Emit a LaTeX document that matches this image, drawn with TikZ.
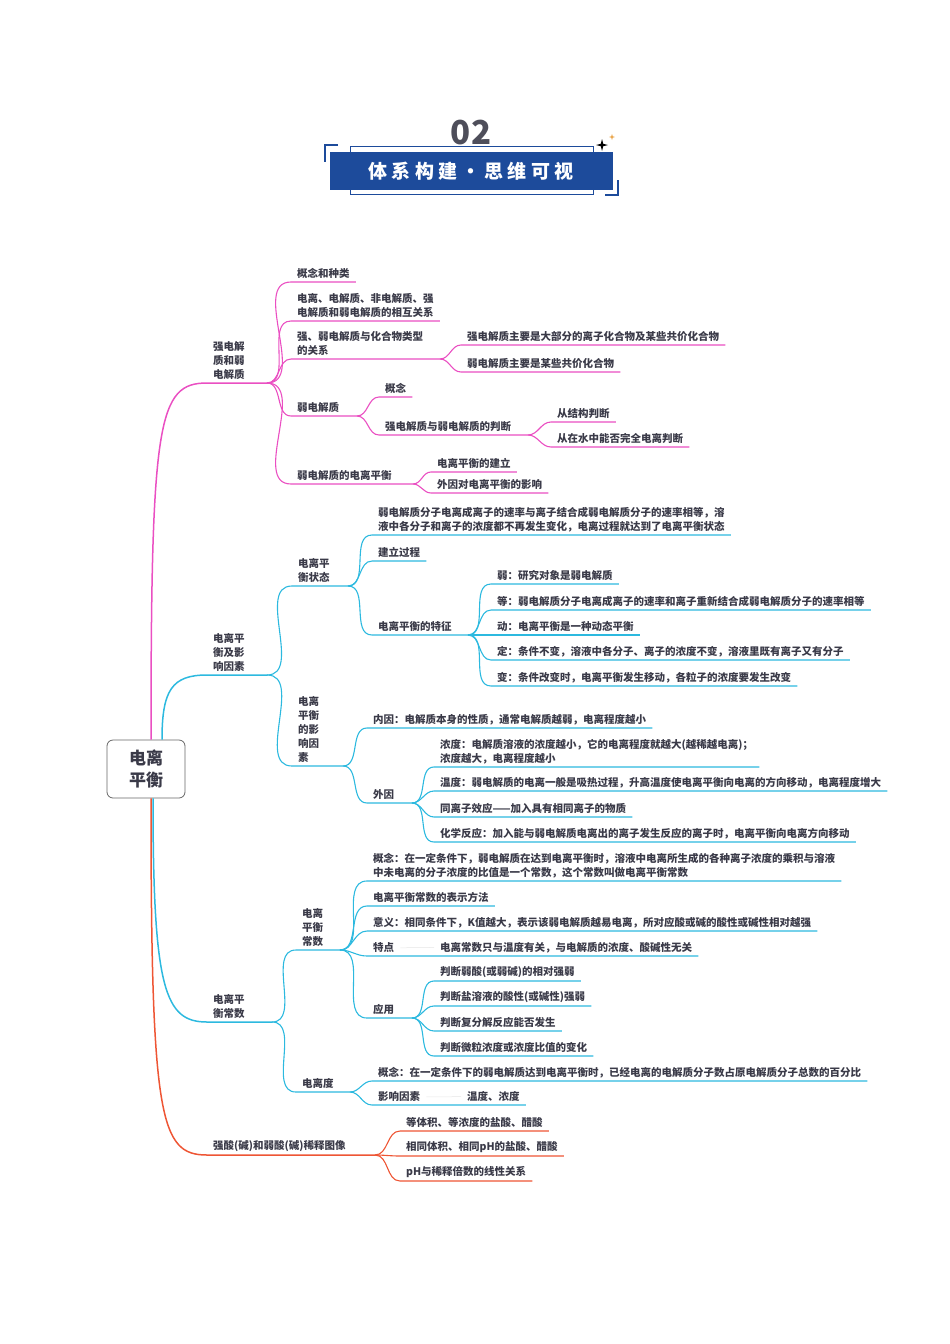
\documentclass[tikz,border=0pt]{standalone}
\usepackage{fontspec}
\usepackage{xcolor}
\usetikzlibrary{positioning}
\newfontfamily\cjk{Noto Sans CJK SC}
\newfontfamily\cjkwide{Noto Sans CJK SC}[LetterSpace=22]
\definecolor{txt}{HTML}{3A3A48}
\definecolor{pinkbr}{HTML}{EA4FC2}
\definecolor{cyanbr}{HTML}{2CB9DF}
\definecolor{redbr}{HTML}{EE5534}
\definecolor{navy}{HTML}{1D4B9B}
\definecolor{spark}{HTML}{E8A040}

\begin{document}
\begin{tikzpicture}[x=1pt,y=-1pt,
    leaf/.style={anchor=south west,inner xsep=6pt,inner ysep=3pt,align=left,text=txt,
      font=\cjk\bfseries\fontsize{10.5}{14}\selectfont},
    pinkln/.style={draw=pinkbr,line width=1.1pt},
    cyanln/.style={draw=cyanbr,line width=1.1pt},
    redln/.style={draw=redbr,line width=1.1pt},
    mainln/.style={line width=1.5pt}]
    \useasboundingbox (0,0) rectangle (950,1344);

    % title
    \draw[navy,line width=0.6pt] (350,146.5) rectangle (593,194);
    \node[fill=navy,minimum width=283,minimum height=38,text=white,
      font=\cjkwide\bfseries\fontsize{19}{22}\selectfont] (banner) at (471,171) {体系构建・思维可视};
    \node[above=3pt of banner,text=txt!90,font=\cjk\bfseries\fontsize{33}{36}\selectfont] (num) {02};
    \draw[navy,line width=1.2pt] (338,145) -- (325,145) -- (325,162);
    \draw[navy,line width=1.2pt] (605,195) -- (618,195) -- (618,180);
    \fill[black] (602,139) -- (603.2,143.8) -- (608,145) -- (603.2,146.2) -- (602,151) -- (600.8,146.2) -- (596,145) -- (600.8,143.8) -- cycle;
    \fill[spark] (612,134) -- (612.7,136.3) -- (615,137) -- (612.7,137.7) -- (612,140) -- (611.3,137.7) -- (609,137) -- (611.3,136.3) -- cycle;

    % root
    \node[draw=gray!80!black,rounded corners=6pt,line width=0.8pt,minimum width=78,minimum height=58,
      align=center,text=txt,font=\cjk\bfseries\fontsize{17}{22}\selectfont] (root) at (146,769) {电离\\平衡};

    % strong and weak electrolytes
    \coordinate (P0) at (267,383);
    \node[leaf] (p0) at (207,383) {强电解\\质和弱\\电解质};
    \draw[pinkln,mainln] ([xshift=5pt]root.north) .. controls (151,420) and (158,383) .. (p0.south west) -- (P0);
    \node[leaf] (p1) at (291,282) {概念和种类};
    \node[leaf] (p2) at (291,321) {电离、电解质、非电解质、强\\电解质和弱电解质的相互关系};
    \node[leaf] (p3) at (291,359) {强、弱电解质与化合物类型\\的关系};
    \coordinate (p3h) at (440,359);
    \node[leaf] (p31) at (461,345) {强电解质主要是大部分的离子化合物及某些共价化合物};
    \node[leaf] (p32) at (461,372) {弱电解质主要是某些共价化合物};
    \node[leaf] (p4) at (291,416) {弱电解质};
    \coordinate (p4h) at (357,416);
    \node[leaf] (p41) at (379,397) {概念};
    \node[leaf] (p42) at (379,435) {强电解质与弱电解质的判断};
    \coordinate (p42h) at (528,435);
    \node[leaf] (p421) at (551,422) {从结构判断};
    \node[leaf] (p422) at (551,447) {从在水中能否完全电离判断};
    \node[leaf] (p5) at (291,484) {弱电解质的电离平衡};
    \coordinate (p5h) at (413,484);
    \node[leaf] (p51) at (431,472) {电离平衡的建立};
    \node[leaf] (p52) at (431,493) {外因对电离平衡的影响};

    \foreach \n in {p1,p2}
      \draw[pinkln] (P0) to[out=0,in=180] (\n.south west) -- (\n.south east);
    \draw[pinkln] (P0) to[out=0,in=180] (p3.south west) -- (p3h);
    \draw[pinkln] (P0) to[out=0,in=180] (p4.south west) -- (p4h);
    \draw[pinkln] (P0) to[out=0,in=180] (p5.south west) -- (p5h);
    \foreach \n in {p31,p32}
      \draw[pinkln] (p3h) to[out=0,in=180] (\n.south west) -- (\n.south east);
    \draw[pinkln] (p4h) to[out=0,in=180] (p41.south west) -- (p41.south east);
    \draw[pinkln] (p4h) to[out=0,in=180] (p42.south west) -- (p42h);
    \foreach \n in {p421,p422}
      \draw[pinkln] (p42h) to[out=0,in=180] (\n.south west) -- (\n.south east);
    \foreach \n in {p51,p52}
      \draw[pinkln] (p5h) to[out=0,in=180] (\n.south west) -- (\n.south east);

    % equilibrium and its factors
    \coordinate (C0) at (267,675);
    \node[leaf] (c0) at (207,675) {电离平\\衡及影\\响因素};
    \draw[cyanln,mainln] ([xshift=16pt]root.north) .. controls (162,690) and (172,675) .. (c0.south west) -- (C0);
    \node[leaf] (c1) at (292,586) {电离平\\衡状态};
    \coordinate (c1h) at (348,586);
    \node[leaf] (c11) at (372,535) {弱电解质分子电离成离子的速率与离子结合成弱电解质分子的速率相等，溶\\液中各分子和离子的浓度都不再发生变化，电离过程就达到了电离平衡状态};
    \node[leaf] (c12) at (372,561) {建立过程};
    \node[leaf] (c13) at (372,635) {电离平衡的特征};
    \coordinate (c13h) at (468,635);
    \node[leaf] (c131) at (491,584) {弱：研究对象是弱电解质};
    \node[leaf] (c132) at (491,610) {等：弱电解质分子电离成离子的速率和离子重新结合成弱电解质分子的速率相等};
    \node[leaf] (c133) at (491,635) {动：电离平衡是一种动态平衡};
    \node[leaf] (c134) at (491,660) {定：条件不变，溶液中各分子、离子的浓度不变，溶液里既有离子又有分子};
    \node[leaf] (c135) at (491,686) {变：条件改变时，电离平衡发生移动，各粒子的浓度要发生改变};
    \node[leaf] (c2) at (292,766) {电离\\平衡\\的影\\响因\\素};
    \coordinate (c2h) at (343,766);
    \node[leaf] (c21) at (367,728) {内因：电解质本身的性质，通常电解质越弱，电离程度越小};
    \node[leaf] (c22) at (367,803) {外因};
    \coordinate (c22h) at (412,803);
    \node[leaf] (c221) at (434,767) {浓度：电解质溶液的浓度越小，它的电离程度就越大(越稀越电离)；\\浓度越大，电离程度越小};
    \node[leaf] (c222) at (434,791) {温度：弱电解质的电离一般是吸热过程，升高温度使电离平衡向电离的方向移动，电离程度增大};
    \node[leaf] (c223) at (434,817) {同离子效应——加入具有相同离子的物质};
    \node[leaf] (c224) at (434,842) {化学反应：加入能与弱电解质电离出的离子发生反应的离子时，电离平衡向电离方向移动};

    \draw[cyanln] (C0) to[out=0,in=180] (c1.south west) -- (c1h);
    \draw[cyanln] (C0) to[out=0,in=180] (c2.south west) -- (c2h);
    \foreach \n in {c11,c12}
      \draw[cyanln] (c1h) to[out=0,in=180] (\n.south west) -- (\n.south east);
    \draw[cyanln] (c1h) to[out=0,in=180] (c13.south west) -- (c13h);
    \foreach \n in {c131,c132,c133,c134,c135}
      \draw[cyanln] (c13h) to[out=0,in=180] (\n.south west) -- (\n.south east);
    \draw[cyanln] (c2h) to[out=0,in=180] (c21.south west) -- (c21.south east);
    \draw[cyanln] (c2h) to[out=0,in=180] (c22.south west) -- (c22h);
    \foreach \n in {c221,c222,c223,c224}
      \draw[cyanln] (c22h) to[out=0,in=180] (\n.south west) -- (\n.south east);

    % equilibrium constant
    \coordinate (K0) at (272,1022);
    \node[leaf] (k0) at (207,1022) {电离平\\衡常数};
    \draw[cyanln,mainln] ([xshift=7pt]root.south) .. controls (153,990) and (165,1022) .. (k0.south west) -- (K0);
    \node[leaf] (k1) at (296,950) {电离\\平衡\\常数};
    \coordinate (k1h) at (340,950);
    \node[leaf] (k11) at (367,881) {概念：在一定条件下，弱电解质在达到电离平衡时，溶液中电离所生成的各种离子浓度的乘积与溶液\\中未电离的分子浓度的比值是一个常数，这个常数叫做电离平衡常数};
    \node[leaf] (k12) at (367,906) {电离平衡常数的表示方法};
    \node[leaf] (k13) at (367,931) {意义：相同条件下，K值越大，表示该弱电解质越易电离，所对应酸或碱的酸性或碱性相对越强};
    \node[leaf] (k14) at (367,956) {特点};
    \node[leaf] (k14b) at (434,956) {电离常数只与温度有关，与电解质的浓度、酸碱性无关};
    \node[leaf] (k15) at (367,1018) {应用};
    \coordinate (k15h) at (412,1018);
    \node[leaf] (k151) at (434,981) {判断弱酸(或弱碱)的相对强弱};
    \node[leaf] (k152) at (434,1006) {判断盐溶液的酸性(或碱性)强弱};
    \node[leaf] (k153) at (434,1031) {判断复分解反应能否发生};
    \node[leaf] (k154) at (434,1056) {判断微粒浓度或浓度比值的变化};
    \node[leaf] (k2) at (296,1092) {电离度};
    \coordinate (k2h) at (350,1092);
    \node[leaf] (k21) at (372,1081) {概念：在一定条件下的弱电解质达到电离平衡时，已经电离的电解质分子数占原电解质分子总数的百分比};
    \node[leaf] (k22) at (372,1105) {影响因素};
    \node[leaf] (k22b) at (461,1105) {温度、浓度};

    \draw[cyanln] (K0) to[out=0,in=180] (k1.south west) -- (k1h);
    \draw[cyanln] (K0) to[out=0,in=180] (k2.south west) -- (k2h);
    \foreach \n in {k11,k12,k13}
      \draw[cyanln] (k1h) to[out=0,in=180] (\n.south west) -- (\n.south east);
    \draw[cyanln] (k1h) to[out=0,in=180] (k14.south west) -- (k14b.south east);
    \draw[gray!20,line width=0.5pt] (k14.east) -- (k14b.west);
    \draw[cyanln] (k1h) to[out=0,in=180] (k15.south west) -- (k15h);
    \foreach \n in {k151,k152,k153,k154}
      \draw[cyanln] (k15h) to[out=0,in=180] (\n.south west) -- (\n.south east);
    \draw[cyanln] (k2h) to[out=0,in=180] (k21.south west) -- (k21.south east);
    \draw[cyanln] (k2h) to[out=0,in=180] (k22.south west) -- (k22b.south east);
    \draw[gray!20,line width=0.5pt] (k22.east) -- (k22b.west);

    % dilution of strong and weak acids
    \coordinate (R0) at (375,1155);
    \node[leaf] (r0) at (207,1155) {强酸(碱)和弱酸(碱)稀释图像};
    \draw[redln,mainln] ([xshift=5pt]root.south) .. controls (151,1120) and (160,1155) .. (r0.south west) -- (R0);
    \node[leaf] (r1) at (400,1131) {等体积、等浓度的盐酸、醋酸};
    \node[leaf] (r2) at (400,1156) {相同体积、相同pH的盐酸、醋酸};
    \node[leaf] (r3) at (400,1181) {pH与稀释倍数的线性关系};
    \foreach \n in {r1,r2,r3}
      \draw[redln] (R0) to[out=0,in=180] (\n.south west) -- (\n.south east);
\end{tikzpicture}
\end{document}
